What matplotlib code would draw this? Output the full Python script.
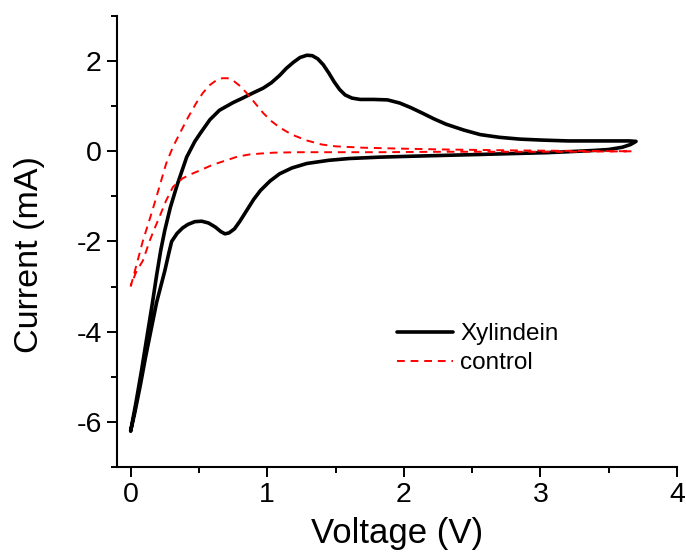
import matplotlib
matplotlib.use("Agg")
import matplotlib.pyplot as plt
from matplotlib.ticker import MultipleLocator

plt.rcParams["font.family"] = ["Liberation Sans", "DejaVu Sans"]
plt.rcParams["axes.unicode_minus"] = False

# Xylindein: forward scan then reverse scan
xyl_v = [0.00, 0.04, 0.08, 0.12, 0.16, 0.19, 0.22, 0.25, 0.29, 0.34, 0.41, 0.47,
         0.51, 0.58, 0.65, 0.75, 0.82, 0.90, 0.97, 1.03, 1.09, 1.14, 1.19, 1.24,
         1.29, 1.33, 1.37, 1.41, 1.45, 1.49, 1.53, 1.57, 1.62, 1.68, 1.78, 1.88,
         1.97, 2.05, 2.14, 2.22, 2.31, 2.44, 2.56, 2.70, 2.85, 3.00, 3.20, 3.40,
         3.55, 3.65, 3.70,
         3.66, 3.60, 3.50, 3.40, 3.20, 3.05, 2.80, 2.56, 2.30, 2.05, 1.82, 1.60,
         1.45, 1.29, 1.18, 1.09, 1.02, 0.95, 0.90, 0.85, 0.80, 0.76, 0.72, 0.69,
         0.66, 0.62, 0.57, 0.52, 0.47, 0.42, 0.38, 0.34, 0.30, 0.28, 0.25, 0.22,
         0.19, 0.15, 0.11, 0.07, 0.03, 0.00]
xyl_i = [-6.20, -5.55, -4.85, -4.10, -3.35, -2.75, -2.20, -1.75, -1.25, -0.75, -0.13, 0.22,
         0.40, 0.70, 0.91, 1.08, 1.18, 1.30, 1.40, 1.52, 1.68, 1.84, 1.97, 2.08,
         2.13, 2.12, 2.05, 1.92, 1.74, 1.54, 1.37, 1.25, 1.18, 1.15, 1.15, 1.14,
         1.07, 0.97, 0.84, 0.72, 0.60, 0.47, 0.37, 0.31, 0.27, 0.25, 0.23, 0.23,
         0.23, 0.23, 0.22,
         0.15, 0.09, 0.04, 0.02, -0.01, -0.03, -0.05, -0.07, -0.09, -0.11, -0.13, -0.16,
         -0.20, -0.27, -0.37, -0.50, -0.66, -0.87, -1.07, -1.31, -1.55, -1.72, -1.81, -1.83,
         -1.78, -1.68, -1.59, -1.55, -1.56, -1.62, -1.70, -1.82, -2.00, -2.25, -2.65, -3.00,
         -3.35, -3.95, -4.55, -5.20, -5.80, -6.20]

# control: forward scan then reverse scan
ctl_v = [0.00, 0.04, 0.09, 0.14, 0.19, 0.26, 0.31, 0.36, 0.42, 0.48, 0.53, 0.58,
         0.63, 0.67, 0.71, 0.75, 0.80, 0.85, 0.91, 0.97, 1.03, 1.09, 1.18, 1.29,
         1.40, 1.50, 1.70, 1.97, 2.30, 2.80, 3.20, 3.67,
         3.20, 2.80, 2.30, 1.82, 1.50, 1.24, 1.05, 0.95, 0.87, 0.78, 0.70, 0.60,
         0.51, 0.44, 0.38, 0.31, 0.26, 0.21, 0.17, 0.14, 0.09, 0.04, 0.00]
ctl_i = [-3.00, -2.55, -1.98, -1.50, -1.00, -0.27, 0.10, 0.40, 0.75, 1.07, 1.30, 1.47,
         1.58, 1.62, 1.62, 1.57, 1.45, 1.29, 1.07, 0.85, 0.67, 0.53, 0.37, 0.24,
         0.15, 0.11, 0.08, 0.06, 0.04, 0.02, 0.01, 0.00,
         -0.01, -0.01, -0.01, -0.02, -0.02, -0.02, -0.03, -0.05, -0.07, -0.12, -0.20, -0.30,
         -0.42, -0.51, -0.60, -0.79, -1.09, -1.46, -1.75, -1.98, -2.42, -2.68, -2.98]

fig = plt.figure(figsize=(6.86, 5.54), dpi=100)
ax = fig.add_axes([117 / 686, 87 / 554, 560 / 686, 451 / 554])

ax.plot(xyl_v, xyl_i, color="black", lw=2.6, label="Xylindein",
        solid_joinstyle="round", solid_capstyle="round")
ax.plot(ctl_v, ctl_i, color="red", lw=1.4, ls=(0, (4, 3)), label="control")

ax.set_xlim(-0.1, 4)
ax.set_ylim(-7, 3)
ax.xaxis.set_major_locator(MultipleLocator(1))
ax.xaxis.set_minor_locator(MultipleLocator(0.5))
ax.yaxis.set_major_locator(MultipleLocator(2))
ax.yaxis.set_minor_locator(MultipleLocator(1))

for s in ["top", "right"]:
    ax.spines[s].set_visible(False)
for s in ["left", "bottom"]:
    ax.spines[s].set_linewidth(1.5)

ax.tick_params(which="major", direction="out", length=7, width=1.4, labelsize=20.5, pad=4)
ax.tick_params(which="minor", direction="out", length=4, width=1.4)

ax.set_xlabel("Voltage (V)", fontsize=25, labelpad=6)
ax.set_ylabel("Current (mA)", fontsize=24.5)
ax.yaxis.set_label_coords(-0.128, 0.47)

ax.legend(loc="center left", bbox_to_anchor=(0.5, 0.262), frameon=False, fontsize=17.5,
          handlelength=2.3, handletextpad=0.3, labelspacing=0.3,
          borderpad=0, borderaxespad=0)

fig.savefig("out.png", dpi=100)
